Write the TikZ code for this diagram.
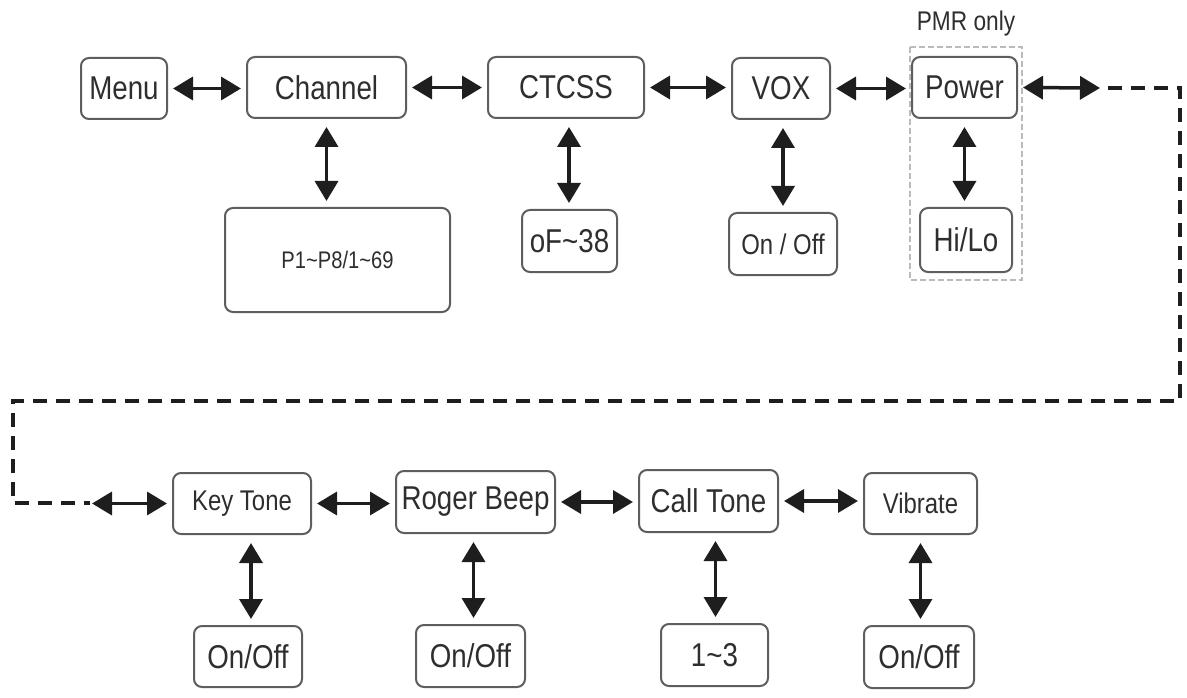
\documentclass[tikz,border=0pt]{standalone}
\usepackage{fontspec}
\setmainfont{Liberation Sans}[FakeStretch=0.84]
\usetikzlibrary{arrows.meta}
\definecolor{boxc}{HTML}{5E5E5E}
\definecolor{txt}{HTML}{2E2E2E}
\definecolor{arr}{HTML}{1E1E1E}
\definecolor{pmrc}{HTML}{BBBBBB}
\newcommand{\fbig}{\fontsize{33}{36}\selectfont}
\newcommand{\fmid}{\fontsize{28.5}{32}\selectfont}
\newcommand{\fsml}{\fontsize{24}{28}\selectfont}
\newcommand{\fpmr}{\fontsize{27}{30}\selectfont}
\begin{document}
\begin{tikzpicture}[x=1pt,y=-1pt,
  box/.style={draw=boxc, line width=2pt, rounded corners=8pt, fill=white, text=txt, inner sep=0pt, font=\fbig},
  biarrow/.style={{Triangle[length=20pt,width=23pt]}-{Triangle[length=20pt,width=23pt]}, line width=3.5pt, draw=arr, shorten <=5pt, shorten >=5pt},
  vbiarrow/.style={biarrow, shorten <=8pt, shorten >=6pt},
  chain/.style={draw=arr, line width=3.5pt, dash pattern=on 14pt off 9pt},
  pmrbox/.style={draw=pmrc, line width=1.3pt, dash pattern=on 6pt off 3pt},
  lbl/.style={text=txt, inner sep=0pt, font=\fpmr}]
\useasboundingbox (0,0) rectangle (1187,698);

% PMR-only frame
\draw[pmrbox] (910,47) rectangle (1022,280);
\node[lbl] (pmr) at (966,24) {PMR only};

% top row
\node[box, minimum width=86pt, minimum height=61pt] (menu) at (124,88.5) {Menu};
\node[box, minimum width=159pt, minimum height=61pt] (channel) at (326.5,87.5) {Channel};
\node[box, minimum width=156pt, minimum height=61pt] (ctcss) at (566,87.5) {CTCSS};
\node[box, minimum width=98pt, minimum height=61pt] (vox) at (781,88.5) {VOX};
\node[box, minimum width=105pt, minimum height=61pt] (power) at (964.5,87.5) {Power};

% top sub-options
\node[box, minimum width=225pt, minimum height=104pt, font=\fsml] (chan) at (337.5,260) {P1\textasciitilde P8/1\textasciitilde 69};
\node[box, minimum width=95pt, minimum height=62pt] (of38) at (569.5,241) {oF\textasciitilde 38};
\node[box, minimum width=108pt, minimum height=62pt, font=\fmid] (voxval) at (783,244) {On / Off};
\node[box, minimum width=92pt, minimum height=64pt] (hilo) at (966,240) {Hi/Lo};

% bottom row
\node[box, minimum width=138pt, minimum height=61pt, font=\fmid] (keytone) at (242,503.5) {Key Tone};
\node[box, minimum width=159pt, minimum height=62pt] (roger) at (475.5,502) {Roger Beep};
\node[box, minimum width=139pt, minimum height=62pt] (call) at (708.5,501) {Call Tone};
\node[box, minimum width=113pt, minimum height=61pt, font=\fmid] (vibrate) at (920.5,503.5) {Vibrate};

% bottom sub-options
\node[box, minimum width=108pt, minimum height=61pt] (keyval) at (248,656.5) {On/Off};
\node[box, minimum width=109pt, minimum height=62pt] (rogerval) at (470.5,656) {On/Off};
\node[box, minimum width=107pt, minimum height=62pt] (callval) at (714.5,655) {1\textasciitilde 3};
\node[box, minimum width=110pt, minimum height=62pt] (vibval) at (919,657) {On/Off};

% horizontal arrows, top
\draw[biarrow] (menu.east) -- (menu.east -| channel.west);
\draw[biarrow] (channel.east) -- (channel.east -| ctcss.west);
\draw[biarrow] (ctcss.east) -- (ctcss.east -| vox.west);
\draw[biarrow] (vox.east) -- (vox.east -| power.west);
\coordinate (pout) at (1100,88);
\draw[biarrow, shorten >=0pt] (power.east) -- (pout);

% dashed continuation
\coordinate (d0) at (1108,88);
\coordinate (d1) at (1180,88);
\coordinate (d2) at (1180,401);
\coordinate (d3) at (13,401);
\coordinate (d4) at (13,503);
\coordinate (d5) at (90,503);
\draw[chain] (d0) -- (d1) -- (d2) -- (d3) -- (d4) -- (d5);
\coordinate (kin) at (92,503.5);
\draw[biarrow, shorten <=0pt] (kin) -- (keytone.west);

% horizontal arrows, bottom
\draw[biarrow] (keytone.east) -- (keytone.east -| roger.west);
\draw[biarrow] (roger.east) -- (roger.east -| call.west);
\draw[biarrow] (call.east) -- (call.east -| vibrate.west);

% vertical arrows, top
\draw[vbiarrow] (channel.south) -- (channel.south |- chan.north);
\draw[vbiarrow] ([xshift=3pt]ctcss.south) -- ([xshift=3pt]ctcss.south |- of38.north);
\draw[vbiarrow] ([xshift=2pt]vox.south) -- ([xshift=2pt]vox.south |- voxval.north);
\draw[vbiarrow] (power.south) -- (power.south |- hilo.north);

% vertical arrows, bottom
\draw[vbiarrow] ([xshift=9pt]keytone.south) -- ([xshift=9pt]keytone.south |- keyval.north);
\draw[vbiarrow] ([xshift=-2pt]roger.south) -- ([xshift=-2pt]roger.south |- rogerval.north);
\draw[vbiarrow] ([xshift=7pt]call.south) -- ([xshift=7pt]call.south |- callval.north);
\draw[vbiarrow] (vibrate.south) -- (vibrate.south |- vibval.north);
\end{tikzpicture}
\end{document}
